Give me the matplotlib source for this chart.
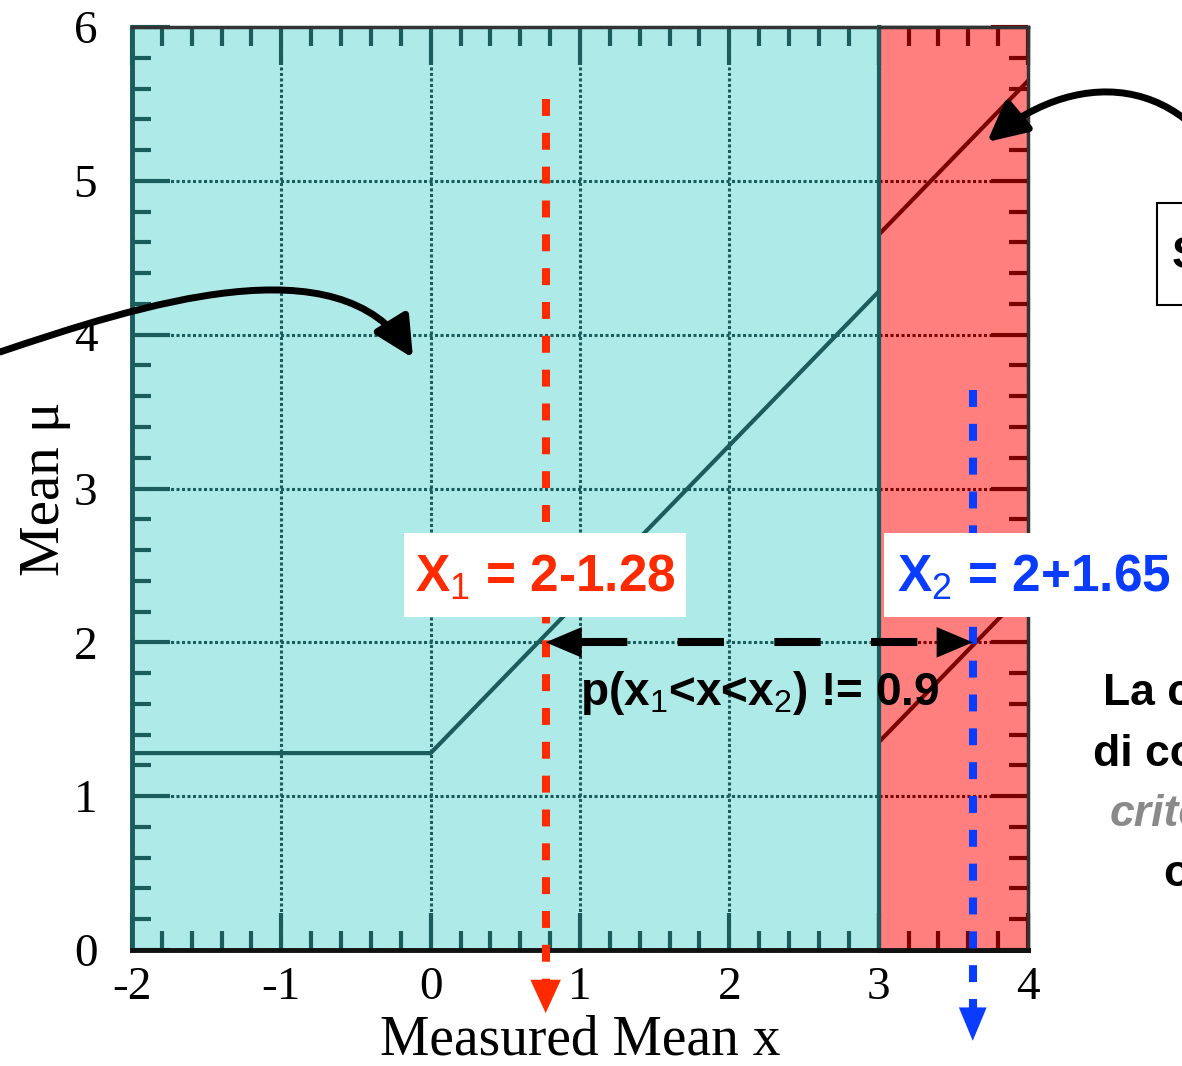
import matplotlib
matplotlib.use("Agg")
import matplotlib.pyplot as plt
from matplotlib.ticker import MultipleLocator
from matplotlib.transforms import Affine2D
from matplotlib.patches import Rectangle, FancyArrowPatch
from matplotlib.path import Path

W, H = 1182, 1066

# confidence belt (upper limit branch, then central branch)
x_band = [-2, 0, 3]
mu_band = [1.28, 1.28, 4.28]
x_central = [3, 4]
mu_central_hi = [4.65, 5.65]
mu_central_lo = [1.35, 2.35]

# measured mean and the two ends of the interval
mu_true = 2.0
x1 = 0.77   # 2-1.28
x2 = 3.63   # 2+1.65

x_ticks = [-2, -1, 0, 1, 2, 3, 4]
y_ticks = [0, 1, 2, 3, 4, 5, 6]

teal = "#1b5c5c"
cyan = "#aeeae8"
pink = "#ff7f7f"
dred = "#7a0000"
red = "#ff2a00"
blue = "#0a3cff"

plt.rcParams["axes.unicode_minus"] = False
plt.rcParams["mathtext.fontset"] = "custom"
plt.rcParams["mathtext.rm"] = "Liberation Sans"
plt.rcParams["mathtext.bf"] = "Liberation Sans:bold"
serif = ["Liberation Serif", "DejaVu Serif"]
sans = ["Liberation Sans", "DejaVu Sans"]

fig = plt.figure(figsize=(W / 100, H / 100), dpi=100)
px = Affine2D().scale(1 / W, -1 / H).translate(0, 1) + fig.transFigure

ax = fig.add_axes([132 / W, 1 - 950 / H, 896 / W, 923 / H])
ax.set_facecolor(cyan)
ax.set_xlim(-2, 4)
ax.set_ylim(0, 6)
ax.set_xticks(x_ticks)
ax.set_yticks(y_ticks)
ax.xaxis.set_minor_locator(MultipleLocator(0.2))
ax.yaxis.set_minor_locator(MultipleLocator(0.2))
ax.tick_params(which="both", direction="in", top=True, right=False, color=teal)
ax.tick_params(which="major", length=27, width=3)
ax.tick_params(which="minor", length=14, width=3)
ax.tick_params(axis="x", which="major", pad=12)
ax.tick_params(axis="y", which="major", pad=25)
for lab in ax.get_xticklabels() + ax.get_yticklabels():
    lab.set_fontfamily(serif)
    lab.set_fontsize(34)
ax.grid(True, which="major", color=teal, linestyle=(0, (1, 0.8)), lw=2.2)
ax.spines["left"].set_color(teal)
ax.spines["left"].set_linewidth(3.5)
ax.spines["bottom"].set_color("#111")
ax.spines["bottom"].set_linewidth(3.5)
ax.spines["top"].set_color("#333")
ax.spines["top"].set_linewidth(2.5)

ax.plot(x_band, mu_band, color=teal, lw=3, zorder=3)

ax.set_xlabel("Measured Mean x", fontfamily=serif, fontsize=40)
ax.set_ylabel("Mean \u03bc", fontfamily=serif, fontsize=41)
ax.xaxis.set_label_coords(0.5, -0.07)
ax.yaxis.set_label_coords(-0.068, 0.5)

# red region: central intervals
axr = ax.inset_axes([5 / 6, 0, 1 / 6, 1])
axr.set_facecolor(pink)
axr.set_xlim(3, 4)
axr.set_ylim(0, 6)
axr.set_xticks([3, 4])
axr.set_yticks(y_ticks)
axr.xaxis.set_minor_locator(MultipleLocator(0.2))
axr.yaxis.set_minor_locator(MultipleLocator(0.2))
axr.tick_params(which="both", direction="in", top=True, bottom=True, right=True,
                left=False, labelbottom=False, labelleft=False, color=dred)
axr.tick_params(which="major", length=27, width=3)
axr.tick_params(which="minor", length=14, width=3)
axr.grid(True, which="major", color=dred, linestyle=(0, (1, 0.8)), lw=2.2)
axr.spines["left"].set_color(teal)
axr.spines["left"].set_linewidth(3)
axr.spines["bottom"].set_color("#111")
axr.spines["bottom"].set_linewidth(3.5)
axr.spines["top"].set_color("#333")
axr.spines["top"].set_linewidth(2.5)
axr.spines["right"].set_color("#333")
axr.spines["right"].set_linewidth(2.5)
axr.plot(x_central, mu_central_hi, color=dred, lw=3)
axr.plot(x_central, mu_central_lo, color=dred, lw=3)

# vertical dashed lines with arrow heads below the axis
ax.plot([x1, x1], [5.53, -0.2], color=red, lw=5.8, dashes=(2.1, 2.1),
        clip_on=False, zorder=10)
ax.annotate("", xy=(x1, -0.41), xytext=(x1, -0.18), annotation_clip=False,
            arrowprops=dict(arrowstyle="-|>,head_length=1.2,head_width=0.55",
                            mutation_scale=20, color=red, lw=0, shrinkA=0, shrinkB=0),
            zorder=10)
ax.plot([x2, x2], [3.64, -0.38], color=blue, lw=5.8, dashes=(2.1, 2.1),
        clip_on=False, zorder=10)
ax.annotate("", xy=(x2, -0.59), xytext=(x2, -0.36), annotation_clip=False,
            arrowprops=dict(arrowstyle="-|>,head_length=1.2,head_width=0.5",
                            mutation_scale=20, color=blue, lw=0, shrinkA=0, shrinkB=0),
            zorder=10)

# dashed double arrow between x1 and x2
ax.plot([x1 + 0.24, x2 - 0.24], [mu_true, mu_true], color="black", lw=5.8,
        dashes=(5.75, 6.25), zorder=10)
ax.annotate("", xy=(x2, mu_true), xytext=(x1, mu_true),
            arrowprops=dict(arrowstyle="<|-|>,head_length=1.3,head_width=0.55",
                            mutation_scale=20, color="black", lw=0, shrinkA=0, shrinkB=0),
            zorder=11)

# labels in white boxes
fig.add_artist(Rectangle((404, 533), 282, 84, transform=px, fc="white", ec="none", zorder=20))
fig.text(415, 578, r"X$_\mathrm{1}$ = 2-1.28", transform=px, color=red, fontsize=37,
         fontweight="bold", fontfamily=sans, va="center", ha="left", zorder=21)
fig.add_artist(Rectangle((884, 533), 320, 84, transform=px, fc="white", ec="none", zorder=20))
fig.text(897, 578, r"X$_\mathrm{2}$ = 2+1.65", transform=px, color=blue, fontsize=37,
         fontweight="bold", fontfamily=sans, va="center", ha="left", zorder=21)
fig.text(580, 693, r"p(x$_\mathrm{1}$<x<x$_\mathrm{2}$) != 0.9", transform=px, color="black",
         fontsize=33, fontweight="bold", fontfamily=sans, va="center", ha="left", zorder=21)

# side notes, cut by the right edge as in the slide
fig.text(1103, 693, "La copertura", transform=px, fontsize=32, fontweight="bold",
         fontfamily=sans, va="center", ha="left")
fig.text(1093, 755, "di confidenza", transform=px, fontsize=32, fontweight="bold",
         fontfamily=sans, va="center", ha="left")
fig.text(1110, 815, "criterio", transform=px, fontsize=32, fontweight="bold",
         fontstyle="italic", color="#8a8a8a", fontfamily=sans, va="center", ha="left")
fig.text(1163, 875, "ora", transform=px, fontsize=32, fontweight="bold",
         fontfamily=sans, va="center", ha="left")
fig.add_artist(Rectangle((1157, 203), 120, 102, transform=px, fc="white", ec="black",
                         lw=1.5, zorder=20))
fig.text(1172, 256, "Se x > 3", transform=px, fontsize=32, fontweight="bold",
         fontfamily=sans, va="center", ha="left", zorder=21)

# curved pointer arrows
left_path = Path([(0, 352), (140, 305), (340, 240), (413, 358)],
                 [Path.MOVETO, Path.CURVE4, Path.CURVE4, Path.CURVE4])
fig.add_artist(FancyArrowPatch(path=left_path, transform=px, color="black", lw=5,
                               arrowstyle="-|>,head_length=1.2,head_width=0.6",
                               mutation_scale=20, zorder=22))
right_path = Path([(1250, 220), (1200, 70), (1080, 65), (987, 142)],
                  [Path.MOVETO, Path.CURVE4, Path.CURVE4, Path.CURVE4])
fig.add_artist(FancyArrowPatch(path=right_path, transform=px, color="black", lw=5,
                               arrowstyle="-|>,head_length=1.2,head_width=0.6",
                               mutation_scale=20, zorder=22))

fig.savefig("out.png", dpi=100)
